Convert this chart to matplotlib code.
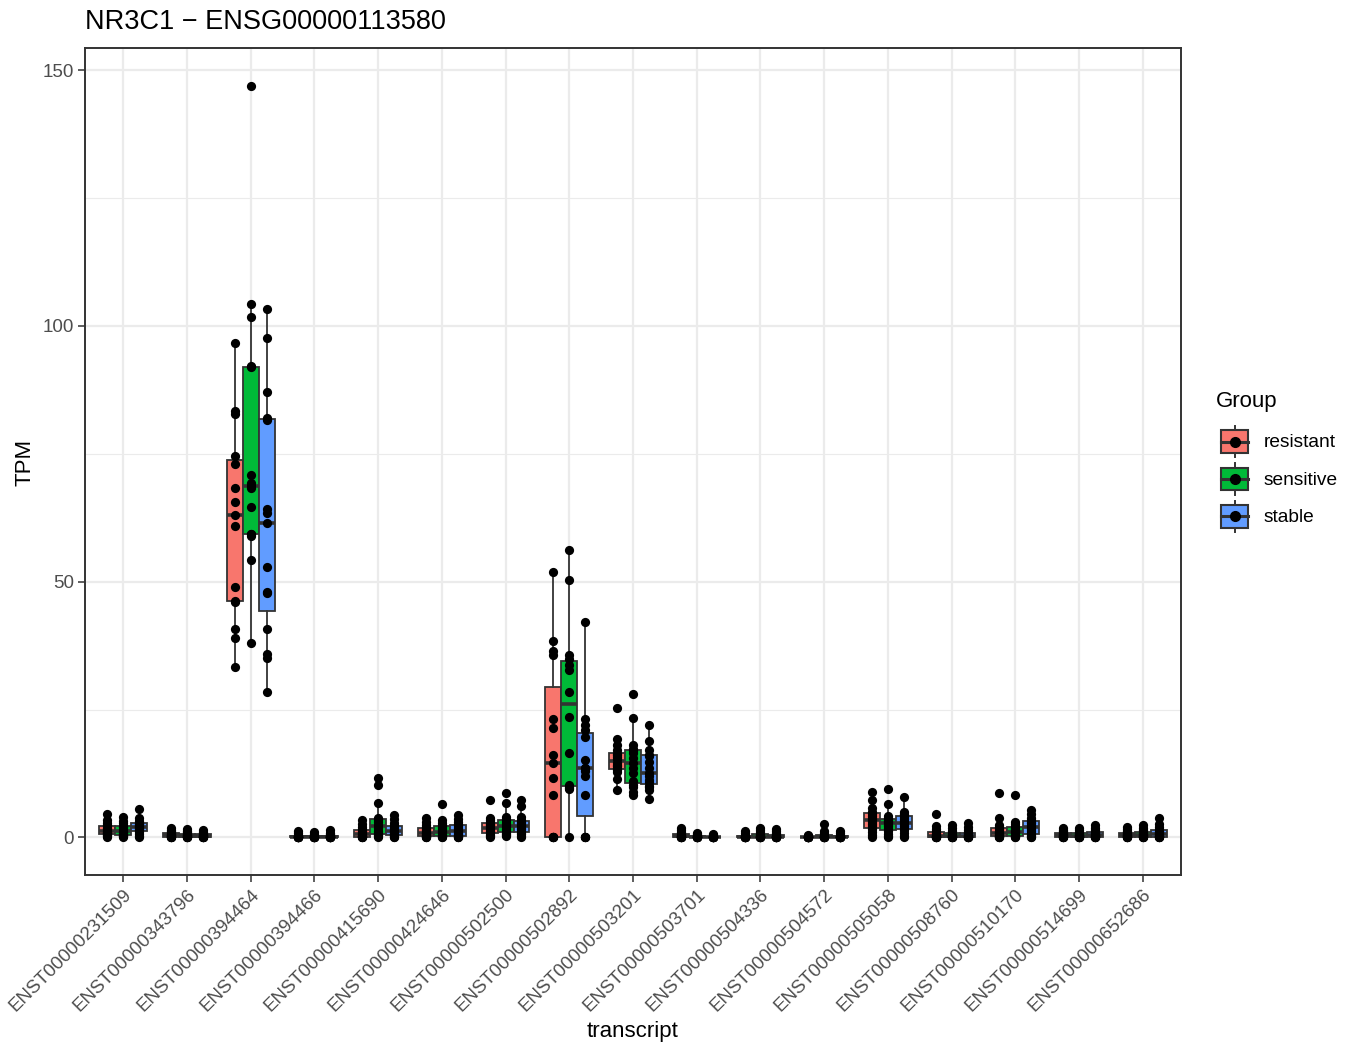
import numpy as np
import matplotlib
matplotlib.use("Agg")
import matplotlib.pyplot as plt
from matplotlib.patches import Patch, Rectangle
from matplotlib.lines import Line2D
from matplotlib.legend_handler import HandlerBase

plt.rcParams["font.family"] = ["Liberation Sans", "DejaVu Sans"]

transcripts = [
    "ENST00000231509", "ENST00000343796", "ENST00000394464", "ENST00000394466",
    "ENST00000415690", "ENST00000424646", "ENST00000502500", "ENST00000502892",
    "ENST00000503201", "ENST00000503701", "ENST00000504336", "ENST00000504572",
    "ENST00000505058", "ENST00000508760", "ENST00000510170", "ENST00000514699",
    "ENST00000652686",
]
groups = ["resistant", "sensitive", "stable"]
group_colors = ["#F8766D", "#00BA38", "#619CFF"]

# TPM per sample, one list per transcript
resistant = [
    [4.5, 3.5, 2.8, 2.4, 2.2, 1.9, 1.6, 1.3, 1.1, 0.9, 0.8, 0.6, 0.4, 0.2, 0.0],
    [1.8, 1.5, 1.2, 1.0, 0.8, 0.6, 0.5, 0.4, 0.3, 0.2, 0.1, 0.1, 0.0, 0.0, 0.0],
    [96.7, 83.4, 82.8, 74.6, 73.0, 68.4, 65.6, 63.1, 60.9, 48.9, 46.3, 46.0, 40.7, 38.9, 33.4],
    [1.2, 0.8, 0.5, 0.3, 0.2, 0.1, 0.1, 0.0, 0.0, 0.0, 0.0, 0.0, 0.0, 0.0, 0.0],
    [3.5, 2.6, 2.0, 1.6, 1.3, 1.0, 0.8, 0.6, 0.4, 0.3, 0.2, 0.1, 0.0, 0.0, 0.0],
    [3.8, 3.0, 2.4, 2.0, 1.7, 1.4, 1.1, 0.9, 0.6, 0.4, 0.3, 0.2, 0.1, 0.0, 0.0],
    [7.4, 3.8, 3.4, 3.0, 2.7, 2.4, 2.2, 1.9, 1.6, 1.3, 1.0, 0.8, 0.5, 0.2, 0.0],
    [51.9, 38.5, 36.4, 35.7, 23.1, 21.3, 16.2, 14.5, 11.7, 8.3, 0.0, 0.0, 0.0, 0.0, 0.0],
    [25.4, 19.3, 18.0, 17.1, 16.3, 16.1, 15.8, 15.4, 14.6, 14.2, 14.0, 13.5, 13.1, 12.8, 11.5, 9.2],
    [1.9, 1.4, 1.0, 0.8, 0.6, 0.4, 0.3, 0.2, 0.1, 0.0, 0.0, 0.0, 0.0, 0.0, 0.0],
    [1.2, 0.8, 0.5, 0.3, 0.2, 0.1, 0.0, 0.0, 0.0, 0.0, 0.0, 0.0, 0.0, 0.0, 0.0],
    [0.5, 0.3, 0.2, 0.1, 0.0, 0.0, 0.0, 0.0, 0.0, 0.0, 0.0, 0.0, 0.0, 0.0, 0.0],
    [8.9, 7.3, 5.8, 5.0, 4.6, 4.2, 3.8, 3.4, 3.0, 2.6, 2.2, 1.6, 1.0, 0.4, 0.0],
    [4.6, 2.2, 1.6, 1.2, 0.9, 0.6, 0.4, 0.3, 0.2, 0.1, 0.0, 0.0, 0.0, 0.0, 0.0],
    [8.6, 3.8, 2.5, 2.0, 1.6, 1.3, 1.0, 0.8, 0.6, 0.4, 0.3, 0.2, 0.1, 0.0, 0.0],
    [1.9, 1.5, 1.2, 1.0, 0.8, 0.6, 0.5, 0.4, 0.3, 0.2, 0.1, 0.0, 0.0, 0.0, 0.0],
    [2.0, 1.6, 1.3, 1.0, 0.8, 0.6, 0.5, 0.4, 0.3, 0.2, 0.1, 0.0, 0.0, 0.0, 0.0],
]
sensitive = [
    [4.0, 3.2, 2.8, 2.3, 2.0, 1.6, 1.3, 1.1, 0.9, 0.7, 0.5, 0.3, 0.2, 0.1],
    [1.6, 1.3, 1.0, 0.8, 0.6, 0.5, 0.4, 0.3, 0.2, 0.1, 0.1, 0.0, 0.0, 0.0],
    [147.0, 104.3, 101.8, 92.1, 91.9, 70.9, 69.3, 68.8, 68.4, 64.6, 59.4, 59.3, 59.0, 54.3, 38.1],
    [1.0, 0.7, 0.5, 0.3, 0.2, 0.1, 0.1, 0.0, 0.0, 0.0, 0.0, 0.0, 0.0, 0.0],
    [11.7, 10.2, 6.8, 3.7, 3.4, 3.0, 2.5, 1.8, 1.2, 0.9, 0.6, 0.4, 0.2, 0.1],
    [6.5, 3.5, 2.8, 2.4, 2.0, 1.6, 1.3, 1.0, 0.8, 0.5, 0.3, 0.2, 0.1, 0.0],
    [8.6, 6.8, 4.0, 3.6, 3.2, 2.8, 2.4, 2.0, 1.6, 1.2, 0.9, 0.6, 0.4, 0.2],
    [56.1, 50.4, 35.6, 34.8, 33.8, 32.7, 28.5, 23.6, 16.5, 10.2, 9.9, 9.6, 9.4, 0.0],
    [28.0, 23.4, 18.0, 17.2, 16.9, 16.5, 15.5, 14.5, 13.5, 12.5, 11.0, 10.2, 9.8, 8.8, 8.3],
    [0.9, 0.6, 0.4, 0.3, 0.2, 0.1, 0.0, 0.0, 0.0, 0.0, 0.0, 0.0, 0.0, 0.0],
    [1.9, 1.4, 1.0, 0.7, 0.5, 0.3, 0.2, 0.1, 0.0, 0.0, 0.0, 0.0, 0.0, 0.0],
    [2.6, 1.2, 0.8, 0.5, 0.3, 0.2, 0.1, 0.0, 0.0, 0.0, 0.0, 0.0, 0.0, 0.0],
    [9.4, 6.6, 4.2, 3.7, 3.4, 3.2, 3.0, 2.8, 2.5, 2.2, 1.8, 1.2, 0.6, 0.2, 0.0],
    [2.5, 1.8, 1.3, 1.0, 0.7, 0.5, 0.3, 0.2, 0.1, 0.0, 0.0, 0.0, 0.0, 0.0],
    [8.3, 3.0, 2.6, 2.2, 1.8, 1.5, 1.2, 1.0, 0.8, 0.5, 0.3, 0.2, 0.1, 0.0],
    [1.9, 1.4, 1.1, 0.9, 0.7, 0.5, 0.4, 0.3, 0.2, 0.1, 0.0, 0.0, 0.0, 0.0],
    [2.5, 1.9, 1.5, 1.2, 0.9, 0.7, 0.5, 0.4, 0.3, 0.2, 0.1, 0.0, 0.0, 0.0],
]
stable = [
    [5.5, 3.8, 3.3, 2.9, 2.6, 2.4, 2.2, 2.0, 1.8, 1.6, 1.4, 1.0, 0.6, 0.3, 0.1],
    [1.4, 1.1, 0.9, 0.7, 0.5, 0.4, 0.3, 0.2, 0.2, 0.1, 0.1, 0.0, 0.0, 0.0, 0.0],
    [103.4, 97.7, 87.0, 82.0, 81.6, 64.2, 63.4, 61.5, 52.9, 48.0, 47.8, 40.7, 35.8, 35.0, 28.4],
    [1.4, 0.9, 0.6, 0.4, 0.3, 0.2, 0.1, 0.1, 0.0, 0.0, 0.0, 0.0, 0.0, 0.0, 0.0],
    [4.3, 3.6, 2.9, 2.4, 2.1, 1.8, 1.5, 1.2, 1.0, 0.8, 0.6, 0.4, 0.2, 0.1, 0.0],
    [4.4, 3.6, 3.0, 2.6, 2.2, 1.9, 1.5, 1.2, 0.9, 0.6, 0.4, 0.2, 0.1, 0.0, 0.0],
    [7.4, 6.2, 4.0, 3.5, 3.1, 2.8, 2.5, 2.2, 1.9, 1.6, 1.2, 0.9, 0.6, 0.3, 0.0],
    [42.1, 23.1, 21.9, 21.0, 19.7, 15.1, 13.5, 13.5, 13.0, 12.0, 8.3, 0.0, 0.0, 0.0, 0.0],
    [21.9, 18.9, 17.1, 16.2, 15.9, 14.8, 13.6, 12.5, 12.0, 11.2, 10.9, 10.0, 9.8, 9.2, 7.6],
    [0.7, 0.5, 0.3, 0.2, 0.1, 0.0, 0.0, 0.0, 0.0, 0.0, 0.0, 0.0, 0.0, 0.0, 0.0],
    [1.7, 1.2, 0.9, 0.6, 0.4, 0.2, 0.1, 0.0, 0.0, 0.0, 0.0, 0.0, 0.0, 0.0, 0.0],
    [1.2, 0.8, 0.5, 0.3, 0.2, 0.1, 0.0, 0.0, 0.0, 0.0, 0.0, 0.0, 0.0, 0.0, 0.0],
    [7.9, 5.0, 4.6, 4.3, 4.0, 3.6, 3.2, 2.8, 2.5, 2.2, 1.8, 1.4, 0.8, 0.3, 0.0],
    [2.8, 2.0, 1.5, 1.1, 0.8, 0.6, 0.4, 0.3, 0.2, 0.1, 0.0, 0.0, 0.0, 0.0, 0.0],
    [5.4, 4.6, 3.8, 3.4, 3.1, 2.8, 2.4, 2.0, 1.6, 1.2, 0.8, 0.5, 0.3, 0.1, 0.0],
    [2.5, 1.8, 1.4, 1.1, 0.9, 0.7, 0.5, 0.4, 0.3, 0.2, 0.1, 0.0, 0.0, 0.0, 0.0],
    [3.8, 2.6, 2.0, 1.6, 1.3, 1.0, 0.8, 0.6, 0.4, 0.3, 0.2, 0.1, 0.0, 0.0, 0.0],
]

EDGE = "#333333"


class BoxKey(HandlerBase):
    """ggplot-like boxplot legend key: whisker, box, median and a dot."""

    def create_artists(self, legend, orig_handle, xd, yd, w, h, fontsize, trans):
        x0, y0 = -xd, -yd
        cx, cy = x0 + w / 2, y0 + h / 2
        whisk = Line2D([cx, cx], [y0 + 0.08 * h, y0 + 0.92 * h], color=EDGE, lw=1.4, transform=trans)
        box = Rectangle((x0 + 0.05 * w, y0 + 0.2 * h), 0.9 * w, 0.6 * h,
                        facecolor=orig_handle.get_facecolor(), edgecolor=EDGE, lw=1.5, transform=trans)
        med = Line2D([x0 + 0.05 * w, x0 + 0.95 * w], [cy, cy], color=EDGE, lw=2.2, transform=trans)
        dot = Line2D([cx], [cy], marker="o", markersize=7, color="black", linestyle="", transform=trans)
        return [whisk, box, med, dot]


fig = plt.figure(figsize=(13.51, 10.44), dpi=100)
ax = fig.add_axes([85 / 1351, 1 - 875 / 1044, (1181 - 85) / 1351, (875 - 48) / 1044])

x = np.arange(len(transcripts))
offsets = [-0.25, 0.0, 0.25]
for data, color, off in zip([resistant, sensitive, stable], group_colors, offsets):
    pos = x + off
    ax.boxplot(data, positions=pos, widths=0.25, patch_artist=True, showfliers=False,
               showcaps=False, whis=1.5, manage_ticks=False, zorder=3,
               boxprops=dict(facecolor=color, edgecolor=EDGE, linewidth=1.3),
               medianprops=dict(color=EDGE, linewidth=2.6),
               whiskerprops=dict(color=EDGE, linewidth=1.3))
    for xi, vals in zip(pos, data):
        ax.scatter(np.full(len(vals), xi), vals, s=44, color="black", zorder=4, linewidths=0)

all_vals = [v for d in (resistant, sensitive, stable) for row in d for v in row]
lo, hi = min(all_vals), max(all_vals)
pad = 0.05 * (hi - lo)
ax.set_ylim(lo - pad, hi + pad)
ax.set_xlim(-0.6, len(transcripts) - 0.4)

ax.set_xticks(x)
ax.set_xticklabels(transcripts, rotation=45, ha="right", va="top", rotation_mode="anchor")
ax.set_yticks([0, 50, 100, 150])
ax.set_yticks([25, 75, 125], minor=True)
ax.tick_params(axis="both", which="major", length=5, width=1.1, color=EDGE,
               labelcolor="#4D4D4D", labelsize=13.5, pad=3)
ax.tick_params(axis="both", which="minor", length=0)
ax.grid(True, which="major", color="#EBEBEB", lw=1.6, zorder=0)
ax.grid(True, which="minor", axis="y", color="#EBEBEB", lw=0.8, zorder=0)
ax.set_axisbelow(True)
for sp in ax.spines.values():
    sp.set_color(EDGE)
    sp.set_linewidth(1.4)

fig.text(85 / 1351, 1 - 22 / 1044, "NR3C1 \u2212 ENSG00000113580", fontsize=19.5,
         ha="left", va="center", color="black")
fig.text(25 / 1351, 1 - 462 / 1044, "TPM", fontsize=16, rotation=90, ha="center", va="center")
fig.text(633 / 1351, 1 - 1031 / 1044, "transcript", fontsize=16, ha="center", va="center")

# legend title placed separately so the gap to the keys matches
fig.text(1216 / 1351, 1 - 402 / 1044, "Group", fontsize=16, ha="left", va="center")
handles = [Patch(facecolor=c, edgecolor=EDGE, label=g) for g, c in zip(groups, group_colors)]
leg = fig.legend(handles=handles, loc="upper left",
                 bbox_to_anchor=(1219 / 1351, 1 - 423 / 1044), frameon=False,
                 fontsize=13.8, handler_map={Patch: BoxKey()},
                 handlelength=1.62, handleheight=2.62, labelspacing=0.0,
                 handletextpad=0.72, borderaxespad=0, borderpad=0)

fig.savefig("out.png", dpi=100)
